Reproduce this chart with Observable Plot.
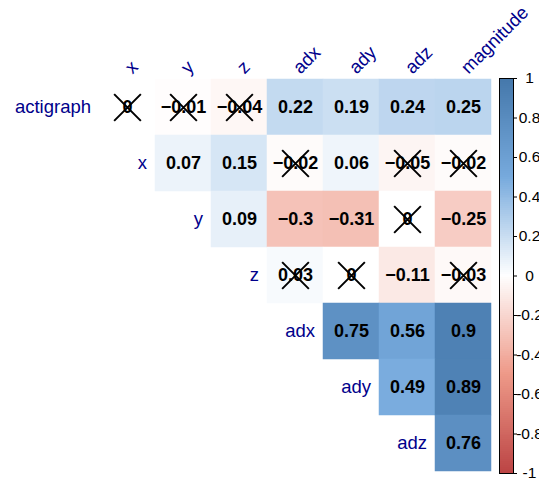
<!DOCTYPE html>
<html>
<head>
<meta charset="utf-8">
<script src="https://cdn.jsdelivr.net/npm/d3@7"></script>
<script src="https://cdn.jsdelivr.net/npm/@observablehq/plot@0.6"></script>
<style>
  html, body { margin: 0; padding: 0; background: white; }
  #chart { position: relative; width: 539px; height: 479px; }
  #chart > svg { position: absolute; left: 0; top: 0; }
</style>
</head>
<body>
<div id="chart"></div>
<script>
// Variables of the correlation matrix (upper triangle, diagonal dropped)
const rowNames = ["actigraph", "x", "y", "z", "adx", "ady", "adz"];
const colNames = ["x", "y", "z", "adx", "ady", "adz", "magnitude"];

// Pearson correlations; null = lower triangle (not drawn)
const corr = [
  [0,    -0.01, -0.04,  0.22,  0.19,  0.24,  0.25],
  [null,  0.07,  0.15, -0.02,  0.06, -0.05, -0.02],
  [null,  null,  0.09, -0.3,  -0.31,  0,    -0.25],
  [null,  null,  null,  0.03,  0,    -0.11, -0.03],
  [null,  null,  null,  null,  0.75,  0.56,  0.9],
  [null,  null,  null,  null,  null,  0.49,  0.89],
  [null,  null,  null,  null,  null,  null,  0.76]
];

// 1 = not significant (crossed out)
const insignificant = [
  [1, 1, 1, 0, 0, 0, 0],
  [0, 0, 0, 1, 0, 1, 1],
  [0, 0, 0, 0, 0, 1, 0],
  [0, 0, 0, 1, 1, 0, 1],
  [0, 0, 0, 0, 0, 0, 0],
  [0, 0, 0, 0, 0, 0, 0],
  [0, 0, 0, 0, 0, 0, 0]
];

// Colour bar tick labels
const colorTicks = [-1, -0.8, -0.6, -0.4, -0.2, 0, 0.2, 0.4, 0.6, 0.8, 1];

// Diverging palette: red (negative) – white – blue (positive)
const paletteStops = [-1, -0.5, 0, 0.5, 1];
const paletteColors = ["#BB4444", "#EE9988", "#FFFFFF", "#77AADD", "#4477AA"];

const cells = [];
rowNames.forEach((r, i) => {
  corr[i].forEach((v, j) => {
    if (v !== null) cells.push({row: r, col: colNames[j], value: v, insig: insignificant[i][j] === 1});
  });
});
const rowLabels = rowNames.map((r, i) => ({row: r, col: colNames[i]}));

const W = 539, H = 479;
const mLeft = 97.7, mRight = 46.5, mTop = 77.3, mBottom = 6.2;
const bandW = (W - mLeft - mRight) / colNames.length;
const font = "'Liberation Sans', Arial, Helvetica, sans-serif";
const fmt = d3.format("~g");
const colorScale = {type: "linear", domain: paletteStops, range: paletteColors, interpolate: "rgb"};

const main = Plot.plot({
  width: W,
  height: H,
  marginLeft: mLeft,
  marginRight: mRight,
  marginTop: mTop,
  marginBottom: mBottom,
  style: {fontFamily: font, background: "white", overflow: "visible"},
  x: {domain: colNames, padding: 0, axis: null},
  y: {domain: rowNames, padding: 0, axis: null},
  color: colorScale,
  marks: [
    Plot.cell(cells, {x: "col", y: "row", fill: "value", stroke: "value", strokeWidth: 0.5}),
    Plot.text(cells, {
      x: "col", y: "row", text: d => fmt(d.value),
      fontWeight: "bold", fontSize: 18, fill: "black"
    }),
    Plot.dot(cells.filter(d => d.insig), {
      x: "col", y: "row", symbol: "times", r: 12.2, stroke: "black", strokeWidth: 2
    }),
    // row names, to the left of each row's first cell
    Plot.text(rowLabels, {
      x: "col", y: "row", text: "row", textAnchor: "end",
      dx: -(bandW / 2 + 8.3), fontSize: 18.5, fill: "darkblue"
    }),
    // column names, tilted above the grid
    Plot.text(colNames, {
      x: d => d, frameAnchor: "top", text: d => d, rotate: -45,
      textAnchor: "start", lineAnchor: "bottom", dx: 5, dy: -3,
      fontSize: 18.5, fill: "darkblue"
    })
  ]
});

// Colour bar
const barStep = 0.01;
const barStops = d3.range(-1, 1 - barStep / 2, barStep);
const legend = Plot.plot({
  width: W,
  height: H,
  marginLeft: 499,
  marginRight: 26,
  marginTop: 78,
  marginBottom: 6,
  style: {fontFamily: font, background: "transparent"},
  x: {domain: [0, 1], axis: null},
  y: {domain: [-1, 1]},
  color: colorScale,
  marks: [
    Plot.rect(barStops, {
      x1: 0, x2: 1, y1: d => d, y2: d => d + barStep,
      fill: d => d + barStep / 2, shapeRendering: "crispEdges"
    }),
    Plot.frame({stroke: "black", strokeWidth: 1}),
    Plot.axisY({
      anchor: "right", ticks: colorTicks, tickFormat: d => String(d),
      tickSize: 3, tickPadding: 13, textAnchor: "middle",
      fontSize: 15.5, label: null, color: "black"
    })
  ]
});

const chart = document.getElementById("chart");
chart.appendChild(main);
chart.appendChild(legend);
</script>
</body>
</html>
